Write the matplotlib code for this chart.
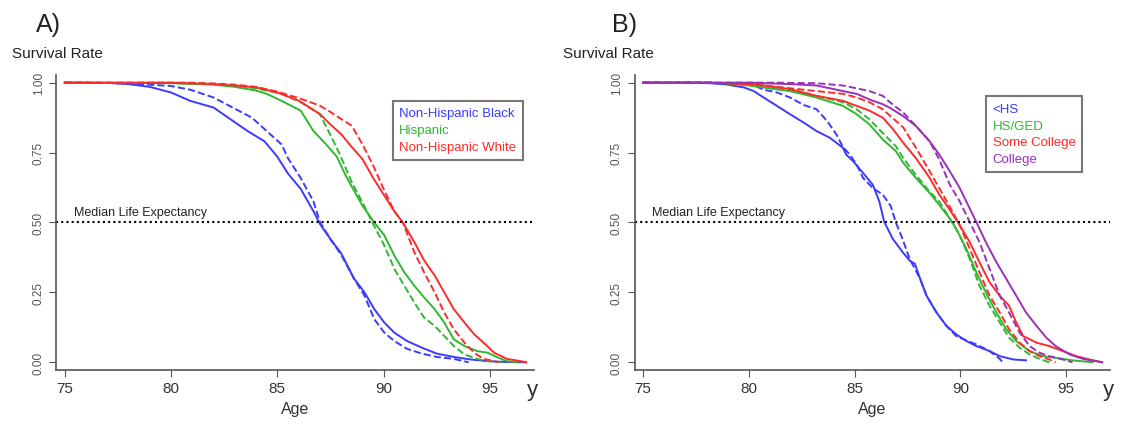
import matplotlib
matplotlib.use("Agg")
import matplotlib.pyplot as plt
from matplotlib.lines import Line2D

plt.rcParams["font.family"] = ["Liberation Sans", "DejaVu Sans"]

# ── Panel A: race / ethnicity ─────────────────────────────────────────────────
A_LABELS = ["Non-Hispanic Black", "Hispanic", "Non-Hispanic White"]

black_solid_age = [75, 77, 78, 79, 80, 80.9, 82, 82.8, 83.6, 84.4, 85, 85.5, 86.1, 86.7, 87.0,
                   87.5, 88.0, 88.6, 89.1, 89.56, 90.03, 90.5, 91.1, 91.8, 92.5, 93.3, 94.1,
                   94.9, 95.8, 96.7]
black_solid_s = [1.0, 0.999, 0.995, 0.985, 0.965, 0.935, 0.911, 0.869, 0.827, 0.79, 0.735, 0.675,
                 0.62, 0.54, 0.495, 0.44, 0.39, 0.30, 0.25, 0.19, 0.142, 0.106, 0.076, 0.052,
                 0.031, 0.019, 0.01, 0.004, 0.001, 0.0]
black_dash_age = [75, 77, 78, 79, 80, 80.9, 82, 82.9, 83.8, 84.5, 85.2, 85.5, 86.1, 86.7, 87.0,
                  87.5, 88.0, 88.6, 89.1, 89.56, 90.03, 90.5, 91.1, 91.8, 92.5, 93.3, 94.0]
black_dash_s = [1.0, 0.999, 0.997, 0.993, 0.988, 0.975, 0.947, 0.911, 0.875, 0.827, 0.779, 0.73,
                0.659, 0.575, 0.502, 0.44, 0.385, 0.30, 0.238, 0.154, 0.106, 0.076, 0.048,
                0.031, 0.019, 0.012, 0.0]

hisp_solid_age = [75, 80, 82, 83, 84, 84.5, 85.2, 86.1, 86.7, 87.3, 87.8, 88.2, 88.6, 89.0,
                  89.56, 90.03, 90.5, 90.97, 91.44, 91.9, 92.4, 92.85, 93.3, 93.8, 94.4, 94.9,
                  95.4, 95.8, 96.3]
hisp_solid_s = [1.0, 0.998, 0.993, 0.985, 0.972, 0.96, 0.935, 0.9, 0.827, 0.779, 0.735, 0.67,
                0.615, 0.56, 0.5, 0.454, 0.382, 0.322, 0.274, 0.232, 0.19, 0.142, 0.082, 0.058,
                0.04, 0.034, 0.016, 0.004, 0.0]
hisp_dash_age = [75, 80, 82, 83, 84, 85.2, 86.1, 87.0, 87.45, 87.9, 88.5, 89.0, 89.5, 90.03,
                 90.5, 90.97, 91.44, 91.9, 92.4, 92.85, 93.3, 93.8, 94.4, 94.9, 95.5]
hisp_dash_s = [1.0, 0.999, 0.996, 0.99, 0.98, 0.96, 0.93, 0.887, 0.82, 0.75, 0.644, 0.572, 0.495,
               0.418, 0.334, 0.274, 0.214, 0.16, 0.13, 0.094, 0.058, 0.028, 0.012, 0.004, 0.0]

white_solid_age = [75, 80, 82, 83, 84, 85, 86, 86.5, 87, 87.5, 88, 88.5, 89, 89.5, 90, 90.5,
                   90.9, 91.44, 91.9, 92.4, 92.85, 93.3, 93.8, 94.26, 94.7, 95.2, 95.8, 96.46,
                   96.7]
white_solid_s = [1.0, 1.0, 0.995, 0.99, 0.983, 0.965, 0.936, 0.912, 0.888, 0.85, 0.816, 0.77,
                 0.727, 0.66, 0.60, 0.54, 0.5, 0.43, 0.365, 0.31, 0.25, 0.19, 0.142, 0.10, 0.07,
                 0.034, 0.012, 0.004, 0.0]
white_dash_age = [75, 81, 82, 83, 84, 85, 86, 87, 87.5, 88, 88.5, 89, 89.5, 90, 90.5, 90.9,
                  91.44, 91.9, 92.4, 92.85, 93.3, 93.8, 94.26, 94.7, 95.2, 95.4]
white_dash_s = [1.0, 1.0, 0.997, 0.993, 0.985, 0.968, 0.945, 0.918, 0.895, 0.87, 0.846, 0.78,
                0.705, 0.62, 0.54, 0.5, 0.394, 0.322, 0.25, 0.178, 0.118, 0.07, 0.034, 0.012,
                0.004, 0.0]

# ── Panel B: education ────────────────────────────────────────────────────────
B_LABELS = ["<HS", "HS/GED", "Some College", "College"]

lths_solid_age = [75, 77, 78.2, 79, 79.77, 80.23, 80.7, 81.33, 81.95, 82.6, 83.2, 83.83, 84.14,
                  84.45, 84.6, 84.92, 85.4, 85.86, 86.17, 86.4, 86.8, 87.27, 87.6, 87.85, 88.1,
                  88.4, 88.87, 89.34, 89.8, 90.28, 90.75, 91.38, 91.86, 92.5, 93.1]
lths_solid_s = [1.0, 1.0, 0.998, 0.993, 0.983, 0.97, 0.947, 0.917, 0.887, 0.857, 0.827, 0.803,
                0.785, 0.767, 0.743, 0.72, 0.677, 0.635, 0.575, 0.502, 0.442, 0.394, 0.364,
                0.352, 0.298, 0.238, 0.178, 0.13, 0.10, 0.076, 0.058, 0.04, 0.022, 0.01, 0.007]
lths_dash_age = [75, 78.2, 79, 80.1, 80.7, 81.33, 81.95, 82.6, 83.2, 83.7, 84.14, 84.45, 84.77,
                 85.1, 85.4, 85.86, 86.33, 86.7, 86.95, 87.27, 87.6, 88.1, 88.4, 88.87, 89.34,
                 89.8, 90.28, 90.75, 91.38, 91.86, 92.0]
lths_dash_s = [1.0, 1.0, 0.998, 0.995, 0.975, 0.965, 0.947, 0.92, 0.905, 0.863, 0.815, 0.77,
               0.743, 0.707, 0.659, 0.623, 0.60, 0.56, 0.50, 0.44, 0.37, 0.298, 0.238, 0.178,
               0.13, 0.094, 0.078, 0.064, 0.04, 0.012, 0.0]

hs_solid_age = [75, 78, 79, 80, 80.7, 81.95, 83.2, 84.45, 85.1, 85.7, 86.33, 86.95, 87.3, 87.9,
                88.55, 89.0, 89.5, 89.8, 90.28, 90.75, 91.2, 91.7, 92.17, 92.64, 93.27, 93.9,
                94.5, 95.3, 96.26]
hs_solid_s = [1.0, 1.0, 0.997, 0.99, 0.983, 0.97, 0.947, 0.917, 0.887, 0.851, 0.797, 0.755,
              0.713, 0.659, 0.605, 0.563, 0.514, 0.478, 0.406, 0.322, 0.25, 0.178, 0.118, 0.076,
              0.04, 0.022, 0.016, 0.007, 0.0]
hs_dash_age = [75, 78, 79, 80, 81, 82, 83.2, 84.45, 85.1, 85.7, 86.33, 86.95, 87.3, 87.9, 88.55,
               89.0, 89.5, 89.97, 90.44, 90.9, 91.38, 91.86, 92.3, 92.8, 93.27, 93.74, 94.2]
hs_dash_s = [1.0, 1.0, 0.998, 0.993, 0.98, 0.97, 0.953, 0.93, 0.905, 0.869, 0.82, 0.773, 0.73,
             0.67, 0.61, 0.575, 0.514, 0.454, 0.37, 0.274, 0.202, 0.142, 0.088, 0.052, 0.028,
             0.012, 0.0]

some_solid_age = [75, 78, 79, 80, 80.7, 81.95, 83.2, 84.45, 85.1, 85.7, 86.33, 86.8, 87.3, 87.9,
                  88.55, 89.0, 89.5, 89.97, 90.44, 90.9, 91.38, 91.86, 92.3, 92.64, 92.96, 93.6,
                  94.2, 94.84, 95.47, 96.1, 96.7]
some_solid_s = [1.0, 1.0, 0.998, 0.995, 0.99, 0.977, 0.953, 0.935, 0.917, 0.9, 0.875, 0.835,
                0.785, 0.73, 0.659, 0.6, 0.545, 0.49, 0.43, 0.358, 0.286, 0.238, 0.202, 0.142,
                0.094, 0.07, 0.058, 0.04, 0.022, 0.01, 0.0]
some_dash_age = [75, 78, 79, 80, 80.7, 81.95, 83.2, 84.45, 85.1, 85.7, 86.33, 86.7, 87.3, 87.9,
                 88.55, 89.0, 89.5, 89.97, 90.44, 90.9, 91.38, 91.86, 92.3, 92.8, 93.27, 93.74,
                 94.2, 94.5]
some_dash_s = [1.0, 1.0, 0.998, 0.995, 0.99, 0.98, 0.97, 0.96, 0.947, 0.93, 0.905, 0.88, 0.84,
               0.767, 0.683, 0.623, 0.556, 0.49, 0.406, 0.322, 0.238, 0.178, 0.118, 0.07, 0.04,
               0.022, 0.01, 0.0]

coll_solid_age = [75, 80, 80.7, 81.95, 83.2, 84.45, 85.1, 85.7, 86.33, 86.67, 87.3, 87.9, 88.55,
                  89.0, 89.5, 89.97, 90.44, 90.75, 91.2, 91.7, 92.17, 92.64, 93.1, 93.6, 94.06,
                  94.5, 95.16, 95.8, 96.4, 96.7]
coll_solid_s = [1.0, 1.0, 0.998, 0.995, 0.99, 0.97, 0.96, 0.94, 0.923, 0.91, 0.88, 0.845, 0.79,
                0.743, 0.683, 0.623, 0.55, 0.502, 0.43, 0.358, 0.298, 0.238, 0.178, 0.13, 0.088,
                0.058, 0.028, 0.012, 0.004, 0.0]
coll_dash_age = [75, 81.33, 83.2, 84.45, 85.7, 86.33, 86.67, 87.3, 87.9, 88.55, 89.0, 89.5,
                 89.97, 90.44, 90.9, 91.38, 91.86, 92.3, 92.8, 93.27, 93.74, 94.2, 94.84, 95.3]
coll_dash_s = [1.0, 1.0, 0.998, 0.99, 0.97, 0.953, 0.93, 0.893, 0.845, 0.79, 0.725, 0.635,
               0.575, 0.502, 0.43, 0.334, 0.238, 0.178, 0.106, 0.058, 0.034, 0.022, 0.01, 0.0]

BLUE, GREEN, RED, PURPLE = "#3b3bff", "#2fb82f", "#ff2a2a", "#9b30b8"
GREY = "#555555"

fig = plt.figure(figsize=(11.42, 4.39), dpi=100)
axA = fig.add_axes([0.0494, 0.1556, 0.4182, 0.6713])
axB = fig.add_axes([0.5558, 0.1556, 0.4162, 0.6713])


def style_axis(ax):
    ax.set_xlim(74.61, 97.07)
    ax.set_ylim(-0.0265, 1.0275)
    for s in ["top", "right"]:
        ax.spines[s].set_visible(False)
    for s in ["left", "bottom"]:
        ax.spines[s].set_color(GREY)
        ax.spines[s].set_linewidth(1.2)
    ax.set_xticks([75, 80, 85, 90, 95])
    ax.set_yticks([0, 0.25, 0.5, 0.75, 1.0])
    ax.set_yticklabels(["0.00", "0.25", "0.50", "0.75", "1.00"], rotation=90, va="center",
                       fontsize=8.5, color="#444444")
    ax.tick_params(axis="x", labelsize=11, colors=GREY, labelcolor="#333333", length=5)
    ax.tick_params(axis="y", colors=GREY, length=5)
    ax.set_xlabel("Age", fontsize=11.5, color="#333333", labelpad=4)
    ax.axhline(0.5, color="black", linestyle=(0, (1, 1.5)), linewidth=1.5)
    ax.text(75.45, 0.515, "Median Life Expectancy", fontsize=9, color="#222222", va="bottom")
    ax.text(97.0, -0.06, "y", fontsize=16, color="#333333", ha="center", va="top")


def add_legend(ax, labels, colors, anchor):
    handles = [Line2D([], [], color=c, linewidth=0) for c in colors]
    leg = ax.legend(handles, labels, loc="upper left", bbox_to_anchor=anchor, handlelength=0,
                    handletextpad=0, labelcolor=colors, fontsize=9.5, frameon=True,
                    fancybox=False, borderpad=0.5, labelspacing=0.35, borderaxespad=0)
    leg.get_frame().set_edgecolor(GREY)
    leg.get_frame().set_linewidth(1.5)


LW = 1.4

# Panel A
axA.plot(black_solid_age, black_solid_s, color=BLUE, lw=LW)
axA.plot(black_dash_age, black_dash_s, color=BLUE, lw=LW, ls="--")
axA.plot(hisp_solid_age, hisp_solid_s, color=GREEN, lw=LW)
axA.plot(hisp_dash_age, hisp_dash_s, color=GREEN, lw=LW, ls="--")
axA.plot(white_solid_age, white_solid_s, color=RED, lw=LW)
axA.plot(white_dash_age, white_dash_s, color=RED, lw=LW, ls="--")
style_axis(axA)
add_legend(axA, A_LABELS, [BLUE, GREEN, RED], (0.704, 0.913))

# Panel B
axB.plot(lths_solid_age, lths_solid_s, color=BLUE, lw=LW)
axB.plot(lths_dash_age, lths_dash_s, color=BLUE, lw=LW, ls="--")
axB.plot(hs_solid_age, hs_solid_s, color=GREEN, lw=LW)
axB.plot(hs_dash_age, hs_dash_s, color=GREEN, lw=LW, ls="--")
axB.plot(some_solid_age, some_solid_s, color=RED, lw=LW)
axB.plot(some_dash_age, some_dash_s, color=RED, lw=LW, ls="--")
axB.plot(coll_solid_age, coll_solid_s, color=PURPLE, lw=LW)
axB.plot(coll_dash_age, coll_dash_s, color=PURPLE, lw=LW, ls="--")
style_axis(axB)
add_legend(axB, B_LABELS, [BLUE, GREEN, RED, PURPLE], (0.739, 0.929))

# Panel titles and y-axis headers
fig.text(36 / 1142, 1 - 25 / 439, "A)", fontsize=18, color="#222222", va="center")
fig.text(612 / 1142, 1 - 25 / 439, "B)", fontsize=18, color="#222222", va="center")
fig.text(12 / 1142, 1 - 54 / 439, "Survival Rate", fontsize=11, color="#222222", va="center")
fig.text(563 / 1142, 1 - 54 / 439, "Survival Rate", fontsize=11, color="#222222", va="center")

fig.savefig("out.png", dpi=100)
